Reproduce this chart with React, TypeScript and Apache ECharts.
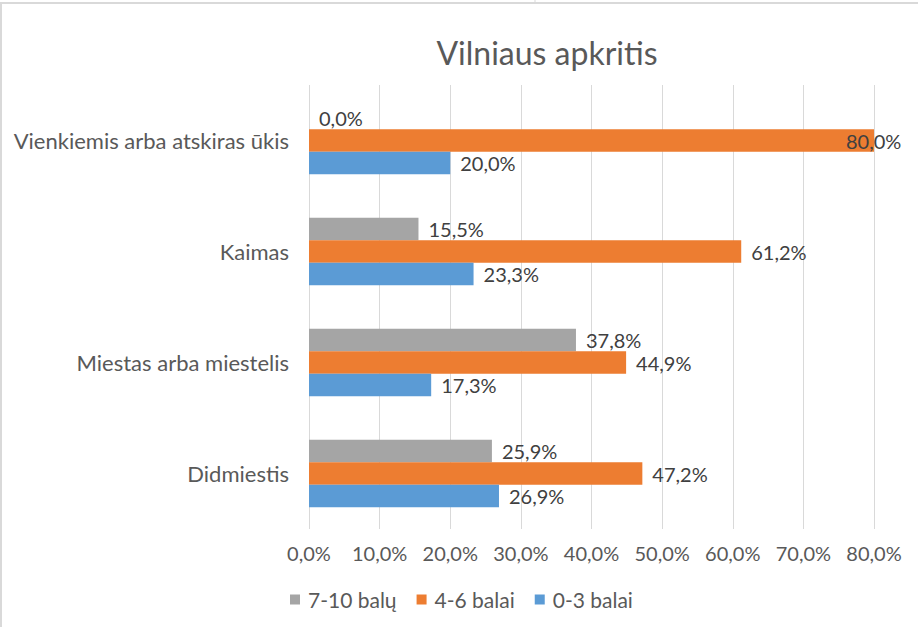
import React, { useEffect, useRef } from "react";
import * as echarts from "echarts";

const categories = ["Didmiestis", "Miestas arba miestelis", "Kaimas", "Vienkiemis arba atskiras ūkis"];
const seriesNames = ["7-10 balų", "4-6 balai", "0-3 balai"];
const values710 = [25.9, 37.8, 15.5, 0.0];
const values46 = [47.2, 44.9, 61.2, 80.0];
const values03 = [26.9, 17.3, 23.3, 20.0];
const xTicks = [0, 10, 20, 30, 40, 50, 60, 70, 80];
const colors = ["#A5A5A5", "#ED7D31", "#5B9BD5"];

const FONT = "Lato, 'Open Sans', sans-serif";
const fmt = (v: number) => v.toFixed(1).replace(".", ",") + "%";

export default function App() {
  const ref = useRef<HTMLDivElement>(null);
  useEffect(() => {
    if (!ref.current) return;
    const chart = echarts.init(ref.current, undefined, { renderer: "svg" });
    const mkSeries = (name: string, vals: number[], color: string) => ({
      name,
      type: "bar",
      data: vals.map((v) =>
        v >= 79.9
          ? { value: v, label: { position: "right", offset: [-38, 0] } }
          : { value: v }
      ),
      itemStyle: { color },
      barGap: "0%",
      barCategoryGap: "39%",
      label: {
        show: true,
        position: "right",
        distance: 10,
        formatter: (p: any) => fmt(p.value),
        color: "#404040",
        fontSize: 20,
        fontFamily: FONT,
      },
    });
    chart.setOption({
      animation: false,
      backgroundColor: "#ffffff",
      title: {
        text: "Vilniaus apkritis",
        left: 542,
        top: 31,
        textAlign: "center",
        textStyle: { fontFamily: FONT, fontSize: 32, fontWeight: "normal", color: "#595959" },
      },
      grid: { left: 309, right: 44, top: 85, bottom: 98, containLabel: false },
      xAxis: {
        type: "value",
        min: xTicks[0],
        max: xTicks[xTicks.length - 1],
        interval: 10,
        axisLine: { show: false },
        axisTick: { show: false },
        splitLine: { show: true, lineStyle: { color: "#D9D9D9", width: 1 } },
        axisLabel: {
          formatter: (v: number) => fmt(v),
          color: "#595959",
          fontSize: 20,
          fontFamily: FONT,
          margin: 14,
        },
      },
      yAxis: {
        type: "category",
        data: categories,
        axisLine: { show: false },
        axisTick: { show: false },
        axisLabel: { color: "#595959", fontSize: 22, fontFamily: FONT, margin: 20 },
      },
      legend: {
        data: seriesNames,
        bottom: 12,
        left: 285,
        itemWidth: 10,
        itemHeight: 10,
        itemGap: 20,
        icon: "rect",
        textStyle: { color: "#595959", fontSize: 21, fontFamily: FONT, padding: [0, 0, 0, 3] },
      },
      graphic: [
        { type: "line", shape: { x1: 0, y1: 3, x2: 918, y2: 3 }, style: { stroke: "#D9D9D9", lineWidth: 2 } },
        { type: "line", shape: { x1: 1, y1: 3, x2: 1, y2: 627 }, style: { stroke: "#D9D9D9", lineWidth: 2 } },
        { type: "line", shape: { x1: 535, y1: 0, x2: 535, y2: 4 }, style: { stroke: "#D9D9D9", lineWidth: 1 } },
      ],
      series: [
        mkSeries(seriesNames[0], values710, colors[0]),
        mkSeries(seriesNames[1], values46, colors[1]),
        mkSeries(seriesNames[2], values03, colors[2]),
      ],
    });
    return () => chart.dispose();
  }, []);
  return (
    <div
      ref={ref}
      style={{ position: "fixed", left: 0, top: 0, width: 918, height: 627, background: "#fff" }}
    />
  );
}
